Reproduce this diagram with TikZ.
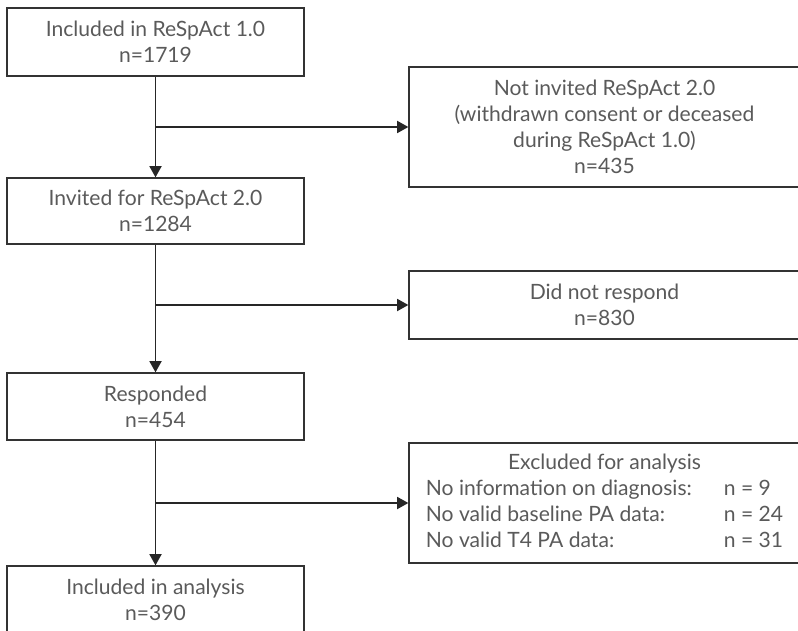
\documentclass[tikz,border=0pt]{standalone}
\usepackage{fontspec}
\setmainfont{Lato}
\usepackage{array}
\usetikzlibrary{arrows.meta}
\definecolor{boxline}{HTML}{333333}
\definecolor{boxtext}{HTML}{5a5a5a}

\begin{document}
\begin{tikzpicture}[auto,
    box/.style={draw=boxline, line width=0.9pt, text=boxtext, align=center, inner sep=0pt,
      minimum width=7.425cm, minimum height=1.7cm, font=\fontsize{15}{18.5}\selectfont},
    side/.style={box, minimum width=9.775cm},
    flow/.style={draw=black!85, line width=1.4pt, -{Triangle[length=8pt,width=8.5pt]}}]

    \useasboundingbox (0, 0) rectangle (19.95, 15.75);

    \node [box] (a) at (3.8875, 14.7) {Included in ReSpAct 1.0\\n=1719};
    \node [box, minimum height=1.65cm] (b) at (3.8875, 10.475) {Invited for ReSpAct 2.0\\n=1284};
    \node [box, minimum height=1.675cm] (c) at (3.8875, 5.5875) {Responded\\n=454};
    \node [box] (d) at (3.8875, 0.75) {Included in analysis\\n=390};
    \node [side, minimum height=3cm] (e) at (15.1125, 12.575) {Not invited ReSpAct 2.0\\(withdrawn consent or deceased\\during ReSpAct 1.0)\\n=435};
    \node [side] (f) at (15.1125, 8.125) {Did not respond\\n=830};
    \node [side, minimum height=3cm] (g) at (15.1125, 3.175) {%
      \begin{tabular}{@{}p{7.45cm}@{}l@{}}
        \multicolumn{2}{c}{Excluded for analysis}\\
        No information on diagnosis: & n = 9\\
        No valid baseline PA data: & n = 24\\
        No valid T4 PA data: & n = 31
      \end{tabular}};

    \draw [flow] (a) to (b);
    \draw [flow] (b) to (c);
    \draw [flow] (c) to (d);
    \draw [flow] (a |- e.west) to (e.west);
    \draw [flow] (b |- f.west) to (f.west);
    \draw [flow] (c |- g.west) to (g.west);

  \end{tikzpicture}
\end{document}
